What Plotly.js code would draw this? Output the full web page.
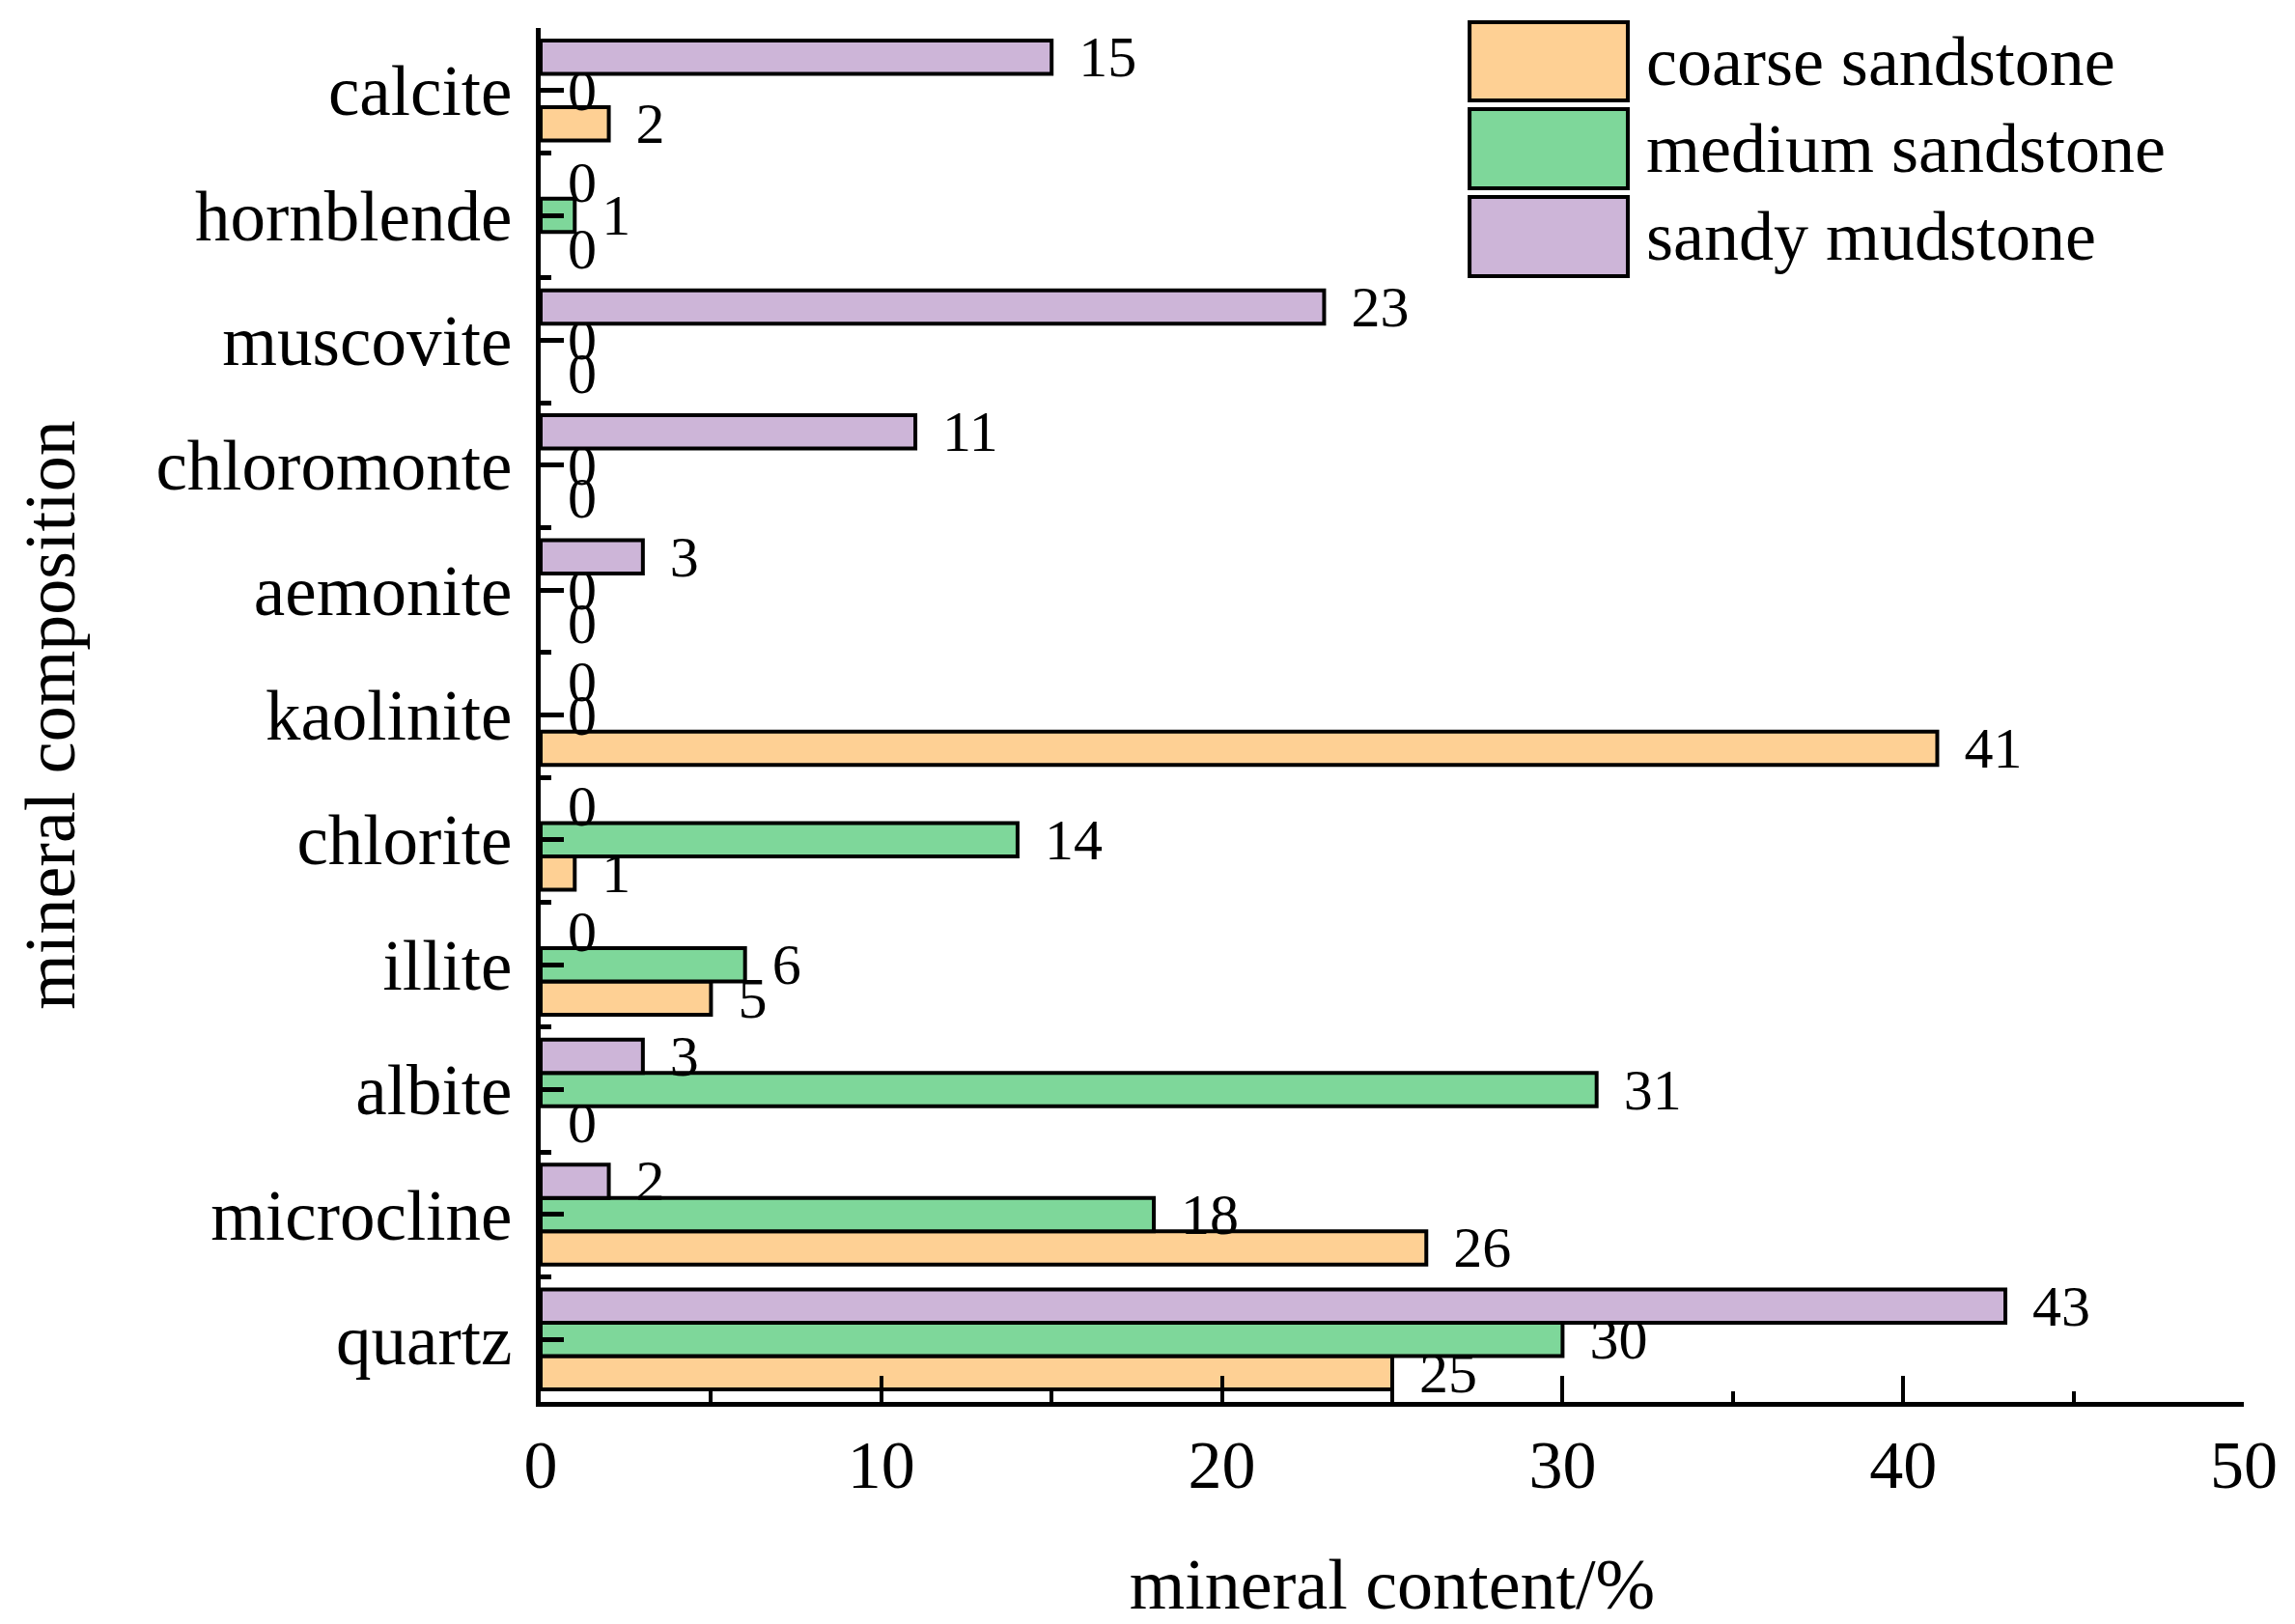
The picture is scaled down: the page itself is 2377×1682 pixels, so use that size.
<!DOCTYPE html>
<html>
<head>
<meta charset="utf-8">
<script src="https://cdn.plot.ly/plotly-3.0.1.min.js"></script>
<style>
  html, body { margin: 0; padding: 0; background: #fff; }
  #chart { width: 2377px; height: 1682px; }
</style>
</head>
<body>
<div id="chart"></div>
<script>
// Categories, bottom to top
const minerals = ["quartz", "microcline", "albite", "illite", "chlorite", "kaolinite",
                  "aemonite", "chloromonte", "muscovite", "hornblende", "calcite"];
const seriesNames = ["coarse sandstone", "medium sandstone", "sandy mudstone"];
const coarseSandstone = [25, 26, 0, 5, 1, 41, 0, 0, 0, 0, 2];
const mediumSandstone = [30, 18, 31, 6, 14, 0, 0, 0, 0, 1, 0];
const sandyMudstone   = [43, 2, 3, 0, 0, 0, 3, 11, 23, 0, 15];
const xTickValues = [0, 10, 20, 30, 40, 50];

const seriesValues = [coarseSandstone, mediumSandstone, sandyMudstone];
const seriesColors = ["#FED094", "#7ED79A", "#CDB5D8"];
const FONT = "Liberation Serif, Times New Roman, serif";
const yIdx = minerals.map((_, i) => i);

const traces = seriesValues.map((vals, k) => ({
  type: "bar",
  orientation: "h",
  name: seriesNames[k],
  x: vals,
  y: yIdx,
  marker: { color: seriesColors[k], line: { color: "#000", width: vals.map(v => v === 0 ? 0 : 4) } },
  text: vals.map(v => String(v)),
  texttemplate: "\u00a0\u2006%{text}",
  textposition: "outside",
  textangle: 0,
  constraintext: "none",
  cliponaxis: false,
  textfont: { family: FONT, size: 60, color: "#000" },
  hoverinfo: "x+y+name"
}));

// Custom legend with large swatches (built from series names/colours)
const shapes = [];
const annotations = [];
const legRows = [[1.0042, 0.9473], [0.9410, 0.8834], [0.8770, 0.8194]];
seriesNames.forEach((nm, k) => {
  shapes.push({
    type: "rect", xref: "paper", yref: "paper",
    x0: 0.5454, x1: 0.6383, y0: legRows[k][1], y1: legRows[k][0],
    fillcolor: seriesColors[k], line: { color: "#000", width: 4 }
  });
  annotations.push({
    xref: "paper", yref: "paper", x: 0.648, y: (legRows[k][0] + legRows[k][1]) / 2,
    xanchor: "left", yanchor: "middle", showarrow: false, text: nm,
    font: { family: FONT, size: 72, color: "#000" }
  });
});

const layout = {
  width: 2377, height: 1682,
  paper_bgcolor: "#fff", plot_bgcolor: "#fff",
  margin: { l: 560, r: 53, t: 29, b: 230, pad: 0 },
  barmode: "group", bargap: 0.2, bargroupgap: 0,
  showlegend: false,
  font: { family: FONT, color: "#000" },
  xaxis: {
    range: [0, 50], tickmode: "array", tickvals: xTickValues,
    ticks: "inside", ticklen: 27, tickwidth: 4, tickcolor: "#000",
    showline: true, linewidth: 5, linecolor: "#000",
    showgrid: false, zeroline: false, mirror: false,
    tickfont: { family: FONT, size: 70, color: "#000" },
    ticklabelstandoff: 0,
    minor: { tickmode: "linear", tick0: 5, dtick: 10, ticks: "inside", ticklen: 11, tickwidth: 4, tickcolor: "#000", showgrid: false },
    title: { text: "mineral content/%", font: { family: FONT, size: 74, color: "#000" }, standoff: 112 },
    automargin: false, fixedrange: true
  },
  yaxis: {
    range: [-0.5, 10.5], tickmode: "array", tickvals: yIdx, ticktext: minerals,
    ticks: "inside", ticklen: 24, tickwidth: 5, tickcolor: "#000",
    showline: true, linewidth: 5, linecolor: "#000",
    showgrid: false, zeroline: false,
    tickfont: { family: FONT, size: 73, color: "#000" },
    ticklabelstandoff: 10,
    minor: { tickmode: "linear", tick0: 0.5, dtick: 1, ticks: "inside", ticklen: 11, tickwidth: 5, tickcolor: "#000", showgrid: false },
    title: { text: "mineral composition", font: { family: FONT, size: 74, color: "#000" }, standoff: 61 },
    automargin: false, fixedrange: true
  },
  shapes: shapes,
  annotations: annotations
};

Plotly.newPlot("chart", traces, layout, { staticPlot: true, displayModeBar: false });
</script>
</body>
</html>
